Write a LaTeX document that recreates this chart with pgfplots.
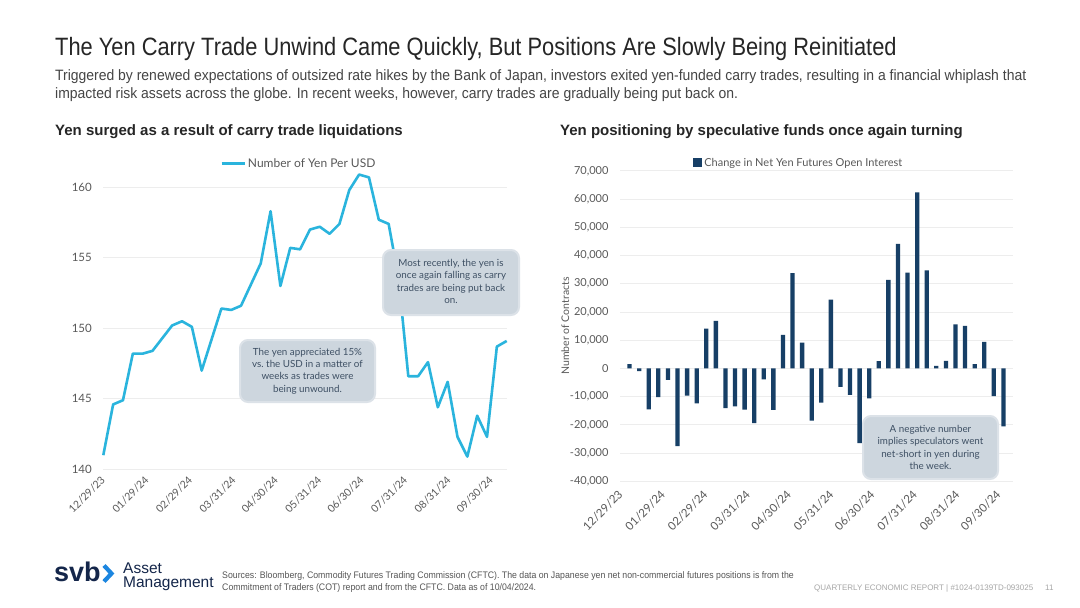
\documentclass[border=0pt]{standalone}
\usepackage{pgfplots}
\pgfplotsset{compat=1.18}
\usepackage{fontspec}
\setmainfont{Lato}
\newfontfamily\titlefont{Liberation Sans}[FakeStretch=0.87]
\newfontfamily\subfont{Liberation Sans}[FakeStretch=0.93]
\newfontfamily\headfont{Liberation Sans}
\newfontfamily\footfont{Liberation Sans}[FakeStretch=0.92]
\newfontfamily\logofont{Liberation Sans}
\definecolor{yenline}{HTML}{2AB4DD}
\definecolor{barnavy}{HTML}{173F66}
\definecolor{boxfill}{HTML}{CDD6DE}
\definecolor{boxedge}{HTML}{DCE2E8}
\definecolor{boxtext}{HTML}{3E5064}
\definecolor{gridc}{HTML}{EDEDED}
\definecolor{tickc}{HTML}{595959}
\definecolor{titlec}{HTML}{262626}
\definecolor{subc}{HTML}{454545}
\definecolor{svbnavy}{HTML}{14264A}
\definecolor{svbblue}{HTML}{1C86E0}
\definecolor{footc}{HTML}{555555}
\definecolor{footlc}{HTML}{A6A6A6}

\pgfplotstableread{
x y
0 141.0
7 144.6
14 144.9
21 148.2
28 148.2
35 148.4
42 149.3
49 150.2
56 150.5
63 150.1
70 147.0
77 149.2
84 151.4
91 151.3
98 151.6
105 153.1
112 154.6
119 158.3
126 153.0
133 155.7
140 155.6
147 157.0
154 157.2
161 156.7
168 157.4
175 159.8
182 160.9
189 160.7
196 157.7
203 157.4
210 153.6
217 146.6
224 146.6
231 147.6
238 144.4
245 146.2
252 142.3
259 140.9
266 143.8
273 142.3
280 148.7
287 149.1
}\yendata

\pgfplotstableread{
x y
4 1500
11 -1000
18 -14500
25 -10200
32 -4100
39 -27600
46 -9700
53 -12400
60 14100
67 16800
74 -14100
81 -13500
88 -14600
95 -19400
102 -3900
109 -14700
116 11900
123 33800
130 9100
137 -18500
144 -12100
151 24400
158 -6600
165 -9400
172 -26500
179 -10600
186 2600
193 31400
200 44100
207 33900
214 62400
221 34700
228 900
235 2700
242 15600
249 15100
256 1500
263 9400
270 -9800
277 -20600
}\futdata

\begin{document}
\begin{tikzpicture}
\useasboundingbox (0pt,0pt) rectangle (1080pt,-608pt);
\fill[white] (0pt,0pt) rectangle (1080pt,-608pt);

% titles
\node[anchor=base west, inner sep=0, text=titlec, font=\titlefont\fontsize{25.1}{28}\selectfont] at (55pt,-55pt) {The Yen Carry Trade Unwind Came Quickly, But Positions Are Slowly Being Reinitiated};
\node[anchor=base west, inner sep=0, text=subc, font=\subfont\fontsize{15}{18}\selectfont] at (55pt,-80pt) {Triggered by renewed expectations of outsized rate hikes by the Bank of Japan, investors exited yen-funded carry trades, resulting in a financial whiplash that};
\node[anchor=base west, inner sep=0, text=subc, font=\subfont\fontsize{15}{18}\selectfont] at (55pt,-98pt) {impacted risk assets across the globe. In recent weeks, however, carry trades are gradually being put back on.};
\node[anchor=base west, inner sep=0, text=titlec, font=\headfont\bfseries\fontsize{15}{18}\selectfont] at (55pt,-135pt) {Yen surged as a result of carry trade liquidations};
\node[anchor=base west, inner sep=0, text=titlec, font=\headfont\bfseries\fontsize{15}{18}\selectfont] at (560pt,-135pt) {Yen positioning by speculative funds once again turning};

% left chart
\begin{axis}[
  at={(103.3pt,-469.3pt)}, anchor=south west,
  scale only axis, width=403.4pt, height=303.2pt,
  xmin=0, xmax=287, ymin=140, ymax=161.5,
  axis line style={draw=none}, major tick length=0pt,
  ymajorgrids, grid style={gridc, line width=0.9pt},
  /pgf/number format/assume math mode=true,
  ytick={140,145,150,155,160},
  yticklabels={140,145,150,155,160},
  yticklabel style={font=\fontsize{11.5}{13}\selectfont, text=tickc, xshift=-8pt},
  xtick={0,31,62,93,123,154,184,215,246,276},
  xticklabels={12/29/23,01/29/24,02/29/24,03/31/24,04/30/24,05/31/24,06/30/24,07/31/24,08/31/24,09/30/24},
  xticklabel style={xshift=2.4pt, yshift=-6.4pt, rotate=45, anchor=east, font=\fontsize{10.5}{12}\selectfont, text=tickc},
  legend style={draw=none, fill=none, at={(0.485,1.008)}, anchor=center, font=\fontsize{12}{13}\selectfont, text=tickc, inner sep=0pt},
  legend image code/.code={\draw[#1, line width=2.5pt] (0pt,0pt) -- (23pt,0pt);},
  clip=false,
]
\addplot[yenline, line width=2.6pt, line join=round] table[x=x,y=y] {\yendata};
\addlegendentry{Number of Yen Per USD}
\end{axis}

% right chart
\begin{axis}[
  at={(620pt,-481.2pt)}, anchor=south west,
  scale only axis, width=393pt, height=310.3pt,
  xmin=-3, xmax=284, ymin=-40000, ymax=70000,
  axis line style={draw=none}, major tick length=0pt,
  ymajorgrids, grid style={gridc, line width=0.9pt},
  scaled y ticks=false,
  ytick={-40000,-30000,-20000,-10000,0,10000,20000,30000,40000,50000,60000,70000},
  yticklabels={{-40,000},{-30,000},{-20,000},{-10,000},0,{10,000},{20,000},{30,000},{40,000},{50,000},{60,000},{70,000}},
  yticklabel style={font=\fontsize{11}{12}\selectfont, text=tickc, xshift=-8pt},
  ylabel={Number of Contracts},
  ylabel style={font=\fontsize{10.5}{12}\selectfont, text=tickc, yshift=-6pt},
  xtick={0,31,62,93,123,154,184,215,246,276},
  xticklabels={12/29/23,01/29/24,02/29/24,03/31/24,04/30/24,05/31/24,06/30/24,07/31/24,08/31/24,09/30/24},
  xticklabel style={xshift=-1pt, yshift=-9pt, rotate=45, anchor=east, font=\fontsize{11.5}{13}\selectfont, text=tickc},
  legend style={draw=none, fill=none, at={(0.455,1.026)}, anchor=center, font=\fontsize{11}{12}\selectfont, text=tickc, inner sep=0pt},
  legend image code/.code={\fill[barnavy] (0pt,-4.5pt) rectangle (9pt,4.5pt);},
  clip=false,
]
\addplot[ybar, bar width=4.3pt, bar shift=0pt, fill=barnavy, draw=none] table[x=x,y=y] {\futdata};
\addlegendentry{Change in Net Yen Futures Open Interest}
\end{axis}

% annotation boxes
\tikzset{annot/.style={rounded corners=8pt, fill=boxfill, draw=boxedge, line width=2pt}}
\tikzset{annottext/.style={align=center, text=boxtext, font=\fontsize{9.8}{12.4}\selectfont, inner sep=0pt}}
\draw[annot] (383pt,-250pt) rectangle (519pt,-315pt);
\node[annottext] at (451pt,-281.5pt) {Most recently, the yen is\\once again falling as carry\\trades are being put back\\on.};
\draw[annot] (240pt,-340pt) rectangle (375pt,-402pt);
\node[annottext] at (307.5pt,-371pt) {The yen appreciated 15\%\\vs.\ the USD in a matter of\\weeks as trades were\\being unwound.};
\draw[annot] (863pt,-416pt) rectangle (998pt,-479pt);
\node[annottext] at (930.5pt,-447.5pt) {A negative number\\implies speculators went\\net-short in yen during\\the week.};

% footer
\node[anchor=base west, inner sep=0, text=svbnavy, font=\logofont\bfseries\fontsize{27}{28}\selectfont] at (54pt,-581pt) {svb};
\draw[svbblue, line width=4.2pt, line join=miter, line cap=butt] (104pt,-565.5pt) -- (111.5pt,-573.5pt) -- (104pt,-581.5pt);
\node[anchor=base west, inner sep=0, text=svbnavy, font=\logofont\fontsize{15.5}{16}\selectfont] at (123pt,-573pt) {Asset};
\node[anchor=base west, inner sep=0, text=svbnavy, font=\logofont\fontsize{15.5}{16}\selectfont] at (123pt,-587pt) {Management};
\node[anchor=base west, inner sep=0, text=footc, font=\footfont\fontsize{9.5}{10}\selectfont] at (222pt,-578pt) {Sources: Bloomberg, Commodity Futures Trading Commission (CFTC). The data on Japanese yen net non-commercial futures positions is from the};
\node[anchor=base west, inner sep=0, text=footc, font=\footfont\fontsize{9.5}{10}\selectfont] at (222pt,-590pt) {Commitment of Traders (COT) report and from the CFTC. Data as of 10/04/2024.};
\node[anchor=base west, inner sep=0, text=footlc, font=\logofont\fontsize{8}{9}\selectfont] at (814pt,-590pt) {QUARTERLY ECONOMIC REPORT | \#1024-0139TD-093025};
\node[anchor=base west, inner sep=0, text=footlc, font=\logofont\fontsize{8}{9}\selectfont] at (1045pt,-590pt) {11};
\end{tikzpicture}
\end{document}
